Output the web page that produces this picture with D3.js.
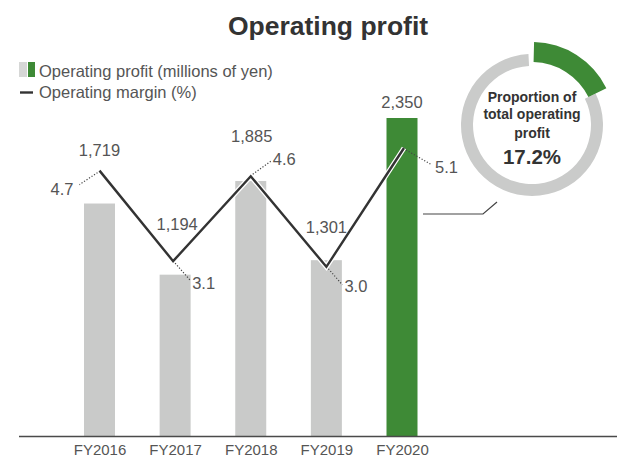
<!DOCTYPE html>
<html>
<head>
<meta charset="utf-8">
<script src="https://cdn.jsdelivr.net/npm/d3@7"></script>
<style>
  html, body { margin: 0; padding: 0; background: #fff; }
  svg { display: block; font-family: "Liberation Sans", Arial, Helvetica, sans-serif; }
</style>
</head>
<body>
<svg id="chart" width="617" height="462"></svg>
<script>
// Fiscal years and values
const years = ["FY2016", "FY2017", "FY2018", "FY2019", "FY2020"];
const profit = [1719, 1194, 1885, 1301, 2350];        // millions of yen
const margin = [4.7, 3.1, 4.6, 3.0, 5.1];              // percent
const profitLabels = ["1,719", "1,194", "1,885", "1,301", "2,350"];
const marginLabels = ["4.7", "3.1", "4.6", "3.0", "5.1"];
const share = 17.2;                                    // % of total operating profit
const highlightYear = "FY2020";

const GRAY = "#c9cac9";
const GREEN = "#3e8a36";
const TEXT = "#555555";
const DARK = "#333333";

const svg = d3.select("#chart");

// Title
svg.append("text")
  .attr("x", 328).attr("y", 35)
  .attr("text-anchor", "middle")
  .attr("font-size", 26.5).attr("font-weight", "bold")
  .attr("fill", DARK)
  .text("Operating profit");

// Scales
const baseY = 436.5;
const x = d3.scalePoint().domain(years).range([99.5, 402]);
const y = d3.scaleLinear().domain([0, 2350]).range([baseY, 118]);
const y2 = d3.scaleLinear().domain([0, 5.1]).range([baseY, 148]);
const barW = 31;

// Bars
svg.append("g").selectAll("rect")
  .data(years)
  .join("rect")
  .attr("x", d => x(d) - barW / 2)
  .attr("y", (d, i) => y(profit[i]))
  .attr("width", barW)
  .attr("height", (d, i) => y(0) - y(profit[i]))
  .attr("fill", d => d === highlightYear ? GREEN : GRAY);

// Baseline
svg.append("line")
  .attr("x1", 19).attr("x2", 617)
  .attr("y1", baseY).attr("y2", baseY)
  .attr("stroke", "#4a4a4a").attr("stroke-width", 1.5);

// Category axis
const axis = svg.append("g")
  .attr("transform", `translate(0,${baseY})`)
  .call(d3.axisBottom(x).tickSize(0).tickPadding(8));
axis.select(".domain").remove();
axis.selectAll("text")
  .attr("font-size", 15)
  .attr("font-family", "Liberation Sans, Arial, sans-serif")
  .attr("fill", TEXT);

// Margin line with white halo
const pts = years.map((d, i) => [x(d) + [0, -2, 0, 0, 2][i], y2(margin[i])]);
const lineGen = d3.line();
svg.append("path")
  .attr("d", lineGen(pts))
  .attr("fill", "none")
  .attr("stroke", "#fff").attr("stroke-width", 5)
  .attr("stroke-linejoin", "miter");
svg.append("path")
  .attr("d", lineGen(pts))
  .attr("fill", "none")
  .attr("stroke", DARK).attr("stroke-width", 2.4)
  .attr("stroke-linejoin", "miter");

// Profit value labels (offsets relative to the margin point / bar top)
const profitPos = [
  { dx: 0, ref: "line", dy: -15 },
  { dx: 2, ref: "line", dy: -31 },
  { dx: 1, ref: "line", dy: -34 },
  { dx: 0, ref: "line", dy: -34 },
  { dx: 0, ref: "bar", dy: -10 }
];
svg.append("g").selectAll("text")
  .data(years)
  .join("text")
  .attr("x", (d, i) => x(d) + profitPos[i].dx)
  .attr("y", (d, i) => (profitPos[i].ref === "bar" ? y(profit[i]) : y2(margin[i])) + profitPos[i].dy)
  .attr("text-anchor", "middle")
  .attr("font-size", 16.5).attr("fill", TEXT)
  .text((d, i) => profitLabels[i]);

// Margin labels with dotted leaders
const marginPos = [
  { lx: -20, ly: 14, tx: -26, ty: 24, anchor: "end" },
  { lx: 17, ly: 19, tx: 19, ty: 28, anchor: "start" },
  { lx: 20, ly: -15, tx: 22, ty: -11, anchor: "start" },
  { lx: 16, ly: 18, tx: 18, ty: 25, anchor: "start" },
  { lx: 28, ly: 17, tx: 31, ty: 25, anchor: "start" }
];
const mg = svg.append("g");
pts.forEach((p, i) => {
  const m = marginPos[i];
  mg.append("line")
    .attr("x1", p[0] + Math.sign(m.lx) * 2).attr("y1", p[1] + Math.sign(m.ly) * 2)
    .attr("x2", p[0] + m.lx).attr("y2", p[1] + m.ly)
    .attr("stroke", "#444").attr("stroke-width", 1.2)
    .attr("stroke-dasharray", "1.2,1.8");
  mg.append("text")
    .attr("x", p[0] + m.tx).attr("y", p[1] + m.ty)
    .attr("text-anchor", m.anchor)
    .attr("font-size", 16.5).attr("fill", TEXT)
    .text(marginLabels[i]);
});

// Legend
const lg = svg.append("g");
lg.append("rect").attr("x", 19).attr("y", 62).attr("width", 8).attr("height", 15).attr("fill", "#d6d7d6");
lg.append("rect").attr("x", 28).attr("y", 62).attr("width", 7).attr("height", 15).attr("fill", GREEN);
lg.append("text").attr("x", 39).attr("y", 77).attr("font-size", 16.5).attr("fill", TEXT)
  .text("Operating profit (millions of yen)");
lg.append("line").attr("x1", 20).attr("x2", 33).attr("y1", 92.5).attr("y2", 92.5)
  .attr("stroke", DARK).attr("stroke-width", 2.4);
lg.append("text").attr("x", 39).attr("y", 97.5).attr("font-size", 16.5).attr("fill", TEXT)
  .text("Operating margin (%)");

// Share donut
const cx = 532, cy = 125;
const donut = svg.append("g").attr("transform", `translate(${cx},${cy})`);
const shareAngle = share / 100 * 2 * Math.PI;
donut.append("path")
  .attr("d", d3.arc().innerRadius(59).outerRadius(71)
    .startAngle(shareAngle + 0.03).endAngle(2 * Math.PI - 0.05)())
  .attr("fill", "#cacbca");
donut.append("path")
  .attr("d", d3.arc().innerRadius(63).outerRadius(83)
    .startAngle(0.025).endAngle(shareAngle + 0.03)())
  .attr("fill", GREEN);

const dt = donut.append("g").attr("text-anchor", "middle").attr("fill", DARK).attr("font-weight", "bold");
dt.append("text").attr("y", -23).attr("font-size", 14).text("Proportion of");
dt.append("text").attr("y", -6).attr("font-size", 14).text("total operating");
dt.append("text").attr("y", 12.5).attr("font-size", 14).text("profit");
dt.append("text").attr("y", 38.5).attr("font-size", 20.5).text(d3.format(".1f")(share) + "%");

// Connector from highlighted bar to donut
svg.append("path")
  .attr("d", d3.line()([[423, 214], [483, 214], [497, 202]]))
  .attr("fill", "none").attr("stroke", "#444").attr("stroke-width", 1.2);
</script>
</body>
</html>
